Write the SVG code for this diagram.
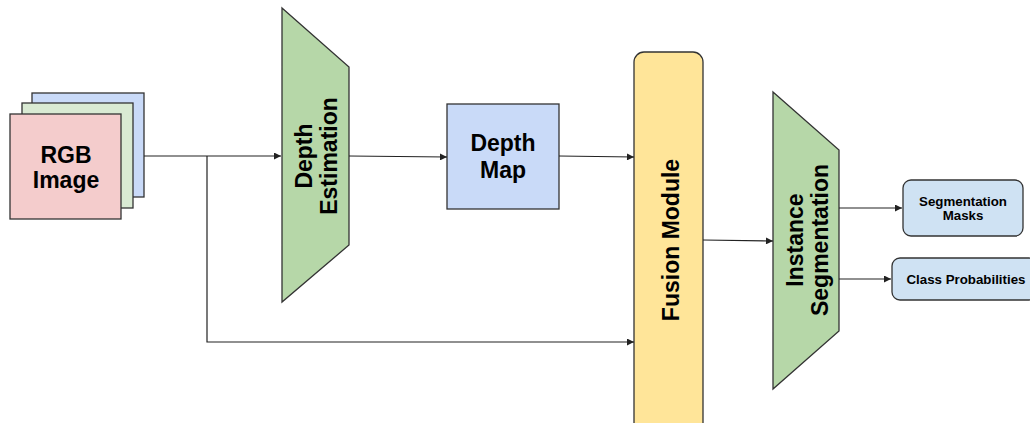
<svg xmlns="http://www.w3.org/2000/svg" width="1030" height="423" viewBox="0 0 1030 423">
  <style>
    .box { stroke: #333333; stroke-width: 1.3; }
    .lbl { font-family: "Liberation Sans", Arial, sans-serif; font-weight: bold; fill: #000000; text-anchor: middle; }
    .big { font-size: 23px; }
    .small { font-size: 13.3px; }
    .wire { fill: none; stroke: #222222; stroke-width: 1.2; }
  </style>
  <defs>
    <marker id="arrow" viewBox="0 0 10 10" refX="10" refY="5" markerWidth="8" markerHeight="7" markerUnits="userSpaceOnUse" orient="auto">
      <path d="M0,0 L10,5 L0,10 z" fill="#222222"/>
    </marker>
  </defs>
  <rect width="1030" height="423" fill="#ffffff"/>

  <!-- input image stack -->
  <g id="rgb-image">
    <rect class="box" x="32" y="93" width="112" height="104" fill="#c9daf8"/>
    <rect class="box" x="22" y="103" width="111" height="105" fill="#d9ead3"/>
    <rect class="box" x="10" y="114" width="111" height="105" fill="#f4cccc"/>
    <text class="lbl big" x="66" y="163">RGB</text>
    <text class="lbl big" x="66" y="188">Image</text>
  </g>

  <!-- depth estimation network -->
  <g id="depth-estimation">
    <polygon class="box" points="282,8 349,67 349,245 282,302" fill="#b6d7a8"/>
    <text class="lbl big" transform="translate(312,156) rotate(-90)">Depth</text>
    <text class="lbl big" transform="translate(337,156) rotate(-90)">Estimation</text>
  </g>

  <!-- depth map -->
  <g id="depth-map">
    <rect class="box" x="447" y="104" width="112" height="105" fill="#c9daf8"/>
    <text class="lbl big" x="503" y="151">Depth</text>
    <text class="lbl big" x="503" y="178">Map</text>
  </g>

  <!-- fusion module -->
  <g id="fusion-module">
    <rect class="box" x="634" y="52" width="69" height="390" rx="10" ry="10" fill="#ffe599"/>
    <text class="lbl big" transform="translate(679,240) rotate(-90)">Fusion Module</text>
  </g>

  <!-- instance segmentation network -->
  <g id="instance-segmentation">
    <polygon class="box" points="773,92 839,150 839,331 773,389" fill="#b6d7a8"/>
    <text class="lbl big" transform="translate(803,240) rotate(-90)">Instance</text>
    <text class="lbl big" transform="translate(828,240) rotate(-90)">Segmentation</text>
  </g>

  <!-- outputs -->
  <g id="segmentation-masks">
    <rect class="box" x="903" y="180" width="120" height="56" rx="8" ry="8" fill="#cfe2f3"/>
    <text class="lbl small" x="963" y="206">Segmentation</text>
    <text class="lbl small" x="963" y="220">Masks</text>
  </g>
  <g id="class-probabilities">
    <rect class="box" x="892" y="258" width="145" height="42" rx="8" ry="8" fill="#cfe2f3"/>
    <text class="lbl small" x="966" y="284">Class Probabilities</text>
  </g>

  <!-- connectors -->
  <g id="connectors">
    <path class="wire" d="M144,156 L281,156" marker-end="url(#arrow)"/>
    <path class="wire" d="M207,156 L207,342 L634,342" marker-end="url(#arrow)"/>
    <path class="wire" d="M349,156 L447,157" marker-end="url(#arrow)"/>
    <path class="wire" d="M559,156 L634,157" marker-end="url(#arrow)"/>
    <path class="wire" d="M703,240 L773,241" marker-end="url(#arrow)"/>
    <path class="wire" d="M839,208 L902,208" marker-end="url(#arrow)"/>
    <path class="wire" d="M839,279 L891,279" marker-end="url(#arrow)"/>
  </g>
</svg>
